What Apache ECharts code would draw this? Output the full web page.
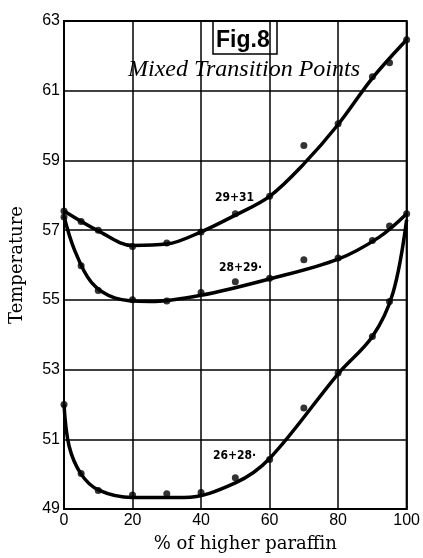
<!DOCTYPE html>
<html>
<head>
<meta charset="utf-8">
<script src="https://cdn.jsdelivr.net/npm/echarts@6/dist/echarts.min.js"></script>
<style>
html,body{margin:0;padding:0;background:#fff;}
#c{width:423px;height:558px;}
</style>
</head>
<body>
<div id="c"></div>
<script>
// ---- data ----
var xTicks = [0, 20, 40, 60, 80, 100];
var yTicks = [49, 51, 53, 55, 57, 59, 61, 63];

// measured points (dots)
var dots2931 = [[0,57.55],[5,57.25],[10,57.0],[20,56.53],[30,56.63],[40,56.95],[50,57.47],[60,57.97],[70,59.43],[80,60.05],[90,61.4],[95,61.8],[100,62.46]];
var dots2829 = [[0,57.38],[5,55.98],[10,55.27],[20,55.0],[30,54.97],[40,55.21],[50,55.52],[60,55.62],[70,56.15],[80,56.2],[90,56.7],[95,57.12],[100,57.47]];
var dots2628 = [[0,52.0],[5,50.02],[10,49.53],[20,49.4],[30,49.44],[40,49.47],[50,49.9],[60,50.42],[70,51.9],[80,52.9],[90,53.95],[95,54.95]];

// drawn smooth curves
var curve2931 = [[0,57.55],[10,56.98],[20,56.56],[30,56.6],[40,56.95],[50,57.43],[60,57.97],[70,58.9],[80,60.03],[90,61.36],[100,62.46]];
var curve2829 = [[0,57.4],[3,56.45],[8,55.5],[15,55.05],[25,54.95],[40,55.13],[60,55.6],[80,56.17],[92,56.8],[100,57.47]];
var curve2628 = [[0,52.0],[1.5,50.8],[5,50.0],[10,49.55],[20,49.33],[35,49.33],[50,49.75],[60,50.45],[80,52.88],[90,53.95],[96,55.2],[100,57.3]];

var seriesNames = ['29+31', '28+29·', '26+28·'];
var titleText = 'Fig.8';
var subtitleText = 'Mixed Transition Points';
var xName = '% of higher paraffin';
var yName = 'Temperature';

var chart = echarts.init(document.getElementById('c'), null, {renderer:'canvas'});

function lineSeries(d){
  return {type:'line', data:d, smooth:0.35, showSymbol:false, symbol:'none',
          lineStyle:{color:'#000', width:3.5}, z:3, silent:true};
}
function dotSeries(d){
  return {type:'scatter', data:d, symbol:'circle', symbolSize:7,
          itemStyle:{color:'#000'}, z:4, silent:true};
}

var option = {
  animation:false,
  backgroundColor:'#fff',
  title:[
    {text:titleText, left:213, top:21, padding:[8,8,2,3],
     borderColor:'#000', borderWidth:1.5,
     textStyle:{fontFamily:'Liberation Sans', fontSize:23, fontWeight:'bold', color:'#000'}},
    {text:subtitleText, left:128, top:58, padding:0,
     textStyle:{fontFamily:'Liberation Serif', fontStyle:'italic', fontSize:24, fontWeight:'normal', color:'#000'}}
  ],
  grid:{left:64, right:8, top:21, bottom:49, show:true, borderColor:'#000', borderWidth:2, backgroundColor:'transparent'},
  xAxis:{type:'value', min:xTicks[0], max:xTicks[xTicks.length-1], interval:20,
    name:xName, nameLocation:'middle', nameGap:26,
    nameTextStyle:{fontFamily:'DejaVu Serif', fontSize:18, color:'#000', padding:[0,0,0,20]},
    axisLine:{show:true, lineStyle:{color:'#000', width:2}},
    axisTick:{show:false},
    axisLabel:{fontFamily:'Liberation Sans', fontSize:16, color:'#000', margin:4},
    splitLine:{show:true, lineStyle:{color:'#000', width:1.5}}},
  yAxis:{type:'value', min:yTicks[0], max:yTicks[yTicks.length-1], interval:2,
    name:yName, nameLocation:'middle', nameGap:38, nameRotate:90,
    nameTextStyle:{fontFamily:'DejaVu Serif', fontSize:18, color:'#000'},
    axisLine:{show:true, lineStyle:{color:'#000', width:2}},
    axisTick:{show:false},
    axisLabel:{fontFamily:'Liberation Sans', fontSize:16, color:'#000', margin:4},
    splitLine:{show:true, lineStyle:{color:'#000', width:1.5}}},
  graphic:[
    {type:'text', left:215, top:192, style:{text:seriesNames[0], font:'bold 12px "DejaVu Sans Condensed", "DejaVu Sans"', fill:'#000'}},
    {type:'text', left:219, top:262, style:{text:seriesNames[1], font:'bold 12px "DejaVu Sans Condensed", "DejaVu Sans"', fill:'#000'}},
    {type:'text', left:213, top:450, style:{text:seriesNames[2], font:'bold 12px "DejaVu Sans Condensed", "DejaVu Sans"', fill:'#000'}}
  ],
  series:[
    lineSeries(curve2931), lineSeries(curve2829), lineSeries(curve2628),
    dotSeries(dots2931), dotSeries(dots2829), dotSeries(dots2628)
  ]
};
chart.setOption(option);
</script>
</body>
</html>
